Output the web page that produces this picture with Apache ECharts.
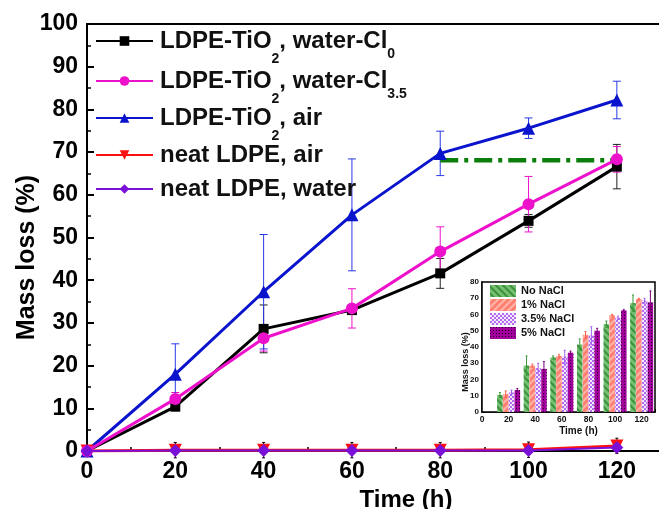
<!DOCTYPE html>
<html>
<head>
<meta charset="utf-8">
<script src="https://cdn.jsdelivr.net/npm/echarts@6/dist/echarts.min.js"></script>
<style>html,body{margin:0;padding:0;background:#fff;}#c{width:659px;height:509px;}</style>
</head>
<body>
<div id="c"></div>
<script>
// ---- main chart data ----
var times = [0, 20, 40, 60, 80, 100, 120];
var cl0 = [0, 10.4, 28.6, 33.0, 41.6, 53.9, 66.6];
var cl0Err = [0, 1.0, 5.6, 1.0, 3.5, 1.5, 5.2];
var cl35 = [0, 12.2, 26.4, 33.4, 46.7, 57.8, 68.3];
var cl35Err = [0, 1.5, 3.0, 4.6, 5.8, 6.5, 3.0];
var air = [0, 18.0, 37.3, 55.3, 69.7, 75.6, 82.2];
var airErr = [0, 7.1, 13.4, 13.1, 5.2, 2.4, 4.4];
var neatAir = [0, 0.2, 0.2, 0.2, 0.2, 0.3, 1.2];
var neatWater = [0, 0.1, 0.1, 0.1, 0.1, 0.1, 0.8];
var neatErr = [0, 1.8, 1.8, 1.8, 1.8, 1.8, 1.8];
var refLevel = 68.1;
var refRange = [80, 120];

// ---- inset data ----
var insetTimes = [20, 40, 60, 80, 100, 120];
var noNaCl = [10.5, 28.5, 33.5, 41.5, 54.0, 67.0];
var noNaClErr = [1.5, 6.0, 1.0, 3.5, 2.0, 5.0];
var nacl1 = [11.0, 28.5, 34.5, 47.5, 59.5, 69.5];
var nacl1Err = [2.0, 1.0, 1.0, 2.0, 0.5, 0.5];
var nacl35 = [12.0, 27.0, 34.0, 47.0, 58.0, 68.5];
var nacl35Err = [1.5, 3.0, 4.0, 5.5, 1.0, 1.5];
var nacl5 = [13.5, 26.5, 36.5, 50.0, 62.5, 67.5];
var nacl5Err = [1.0, 4.5, 1.0, 1.5, 0.5, 7.0];
var insetNames = ['No NaCl', '1% NaCl', '3.5% NaCl', '5% NaCl'];

var names = ['LDPE-TiO2, water-Cl0', 'LDPE-TiO2, water-Cl3.5', 'LDPE-TiO2, air', 'neat LDPE, air', 'neat LDPE, water'];
var FF = '"Liberation Sans", Arial, sans-serif';

function pairs(xs, ys) { return xs.map(function (x, i) { return [x, ys[i]]; }); }
function errData(xs, ys, es) { return xs.map(function (x, i) { return [x, ys[i] - es[i], ys[i] + es[i]]; }); }

function errRender(color, cap, offset) {
  return function (params, api) {
    var x = api.value(0), lo = api.value(1), hi = api.value(2);
    if (hi - lo <= 0) return null;
    var p1 = api.coord([x, lo]), p2 = api.coord([x, hi]);
    var xx = p1[0] + (offset || 0);
    var st = { stroke: color, lineWidth: 1 };
    return {
      type: 'group', children: [
        { type: 'line', shape: { x1: xx, y1: p1[1], x2: xx, y2: p2[1] }, style: st },
        { type: 'line', shape: { x1: xx - cap, y1: p1[1], x2: xx + cap, y2: p1[1] }, style: st },
        { type: 'line', shape: { x1: xx - cap, y1: p2[1], x2: xx + cap, y2: p2[1] }, style: st }
      ]
    };
  };
}

// rich text: main text centred, subscripts bottom-aligned and lowered
var legendRich = {
  n: { fontSize: 24, fontWeight: 'bold', fontFamily: FF, color: '#111', verticalAlign: 'middle', lineHeight: 60 },
  d: { fontSize: 14, fontWeight: 'bold', fontFamily: FF, color: '#111', verticalAlign: 'bottom', padding: [0, 0, 5, 0] },
  s: { fontSize: 14, fontWeight: 'bold', fontFamily: FF, color: '#111', verticalAlign: 'bottom', padding: [0, 0, 10, 0] }
};
function legendFmt(name) {
  if (name === names[0]) return '{n|LDPE-TiO}{d|2}{n|, water-Cl}{s|0}';
  if (name === names[1]) return '{n|LDPE-TiO}{d|2}{n|, water-Cl}{s|3.5}';
  if (name === names[2]) return '{n|LDPE-TiO}{d|2}{n|, air}';
  return '{n|' + name + '}';
}
var legendCenters = [40, 80, 117, 154, 188];
var legends = names.map(function (nm, i) {
  return {
    data: [nm], left: 95, top: legendCenters[i] - 11, orient: 'vertical', itemWidth: 57, itemHeight: 12,
    itemGap: 0, padding: 0, formatter: legendFmt, textStyle: { rich: legendRich, padding: [0, 0, 0, 2] }
  };
});
legends.push({
  data: insetNames, left: 490, top: 285, orient: 'vertical', itemWidth: 26, itemHeight: 12, itemGap: 2,
  padding: 0, icon: 'rect', textStyle: { fontSize: 11, fontWeight: 'bold', fontFamily: FF, color: '#111' }
});

var insetColors = ['#74bf72', '#ff7f70', '#b36bf2', '#a1009c'];
var insetDecals = [
  { symbol: 'rect', color: 'rgba(40,130,40,0.75)', dashArrayX: [1, 0], dashArrayY: [2, 3], rotation: Math.PI / 4 },
  { symbol: 'rect', color: 'rgba(255,190,180,0.85)', dashArrayX: [1, 0], dashArrayY: [2, 3], rotation: -Math.PI / 4 },
  { symbol: 'rect', color: 'rgba(255,255,255,0.85)', symbolSize: 1, dashArrayX: [[2, 2], [0, 2, 2, 0]], dashArrayY: [2, 0], rotation: 0 },
  { symbol: 'rect', color: 'rgba(20,0,20,0.85)', dashArrayX: [[1, 2]], dashArrayY: [1, 2], rotation: 0 }
];
var insetVals = [noNaCl, nacl1, nacl35, nacl5];
var insetErrs = [noNaClErr, nacl1Err, nacl35Err, nacl5Err];
var BW = 5.5, BG = 0.3;

var series = [];
var mainColors = ['#000000', '#ee11cc', '#0a14cc', '#ff1010', '#7a10d8'];
series.push({ type: 'custom', xAxisIndex: 0, yAxisIndex: 0, z: 1, silent: true, renderItem: errRender('#222', 4), data: errData(times, cl0, cl0Err) });
series.push({ type: 'custom', xAxisIndex: 0, yAxisIndex: 0, z: 1, silent: true, renderItem: errRender('#ee11cc', 4), data: errData(times, cl35, cl35Err) });
series.push({ type: 'custom', xAxisIndex: 0, yAxisIndex: 0, z: 1, silent: true, renderItem: errRender('#2a3ae8', 4), data: errData(times, air, airErr) });
series.push({ type: 'custom', xAxisIndex: 0, yAxisIndex: 0, z: 1, silent: true, renderItem: errRender('#000', 1.5), data: errData(times, neatAir, neatErr) });

series.push({ name: names[0], type: 'line', xAxisIndex: 0, yAxisIndex: 0, data: pairs(times, cl0), symbol: 'rect', symbolSize: 10, z: 3,
  lineStyle: { color: '#000', width: 3 }, itemStyle: { color: '#000' } });
series.push({ name: names[1], type: 'line', xAxisIndex: 0, yAxisIndex: 0, data: pairs(times, cl35), symbol: 'circle', symbolSize: 12, z: 4,
  lineStyle: { color: mainColors[1], width: 3 }, itemStyle: { color: mainColors[1] } });
series.push({ name: names[2], type: 'line', xAxisIndex: 0, yAxisIndex: 0, data: pairs(times, air), symbol: 'triangle', symbolSize: 13, z: 3,
  lineStyle: { color: mainColors[2], width: 3 }, itemStyle: { color: mainColors[2] } });
series.push({ name: names[3], type: 'line', xAxisIndex: 0, yAxisIndex: 0, data: pairs(times, neatAir), symbol: 'triangle', symbolRotate: 180, symbolSize: 13, z: 3,
  lineStyle: { color: mainColors[3], width: 3 }, itemStyle: { color: mainColors[3] } });
series.push({ name: names[4], type: 'line', xAxisIndex: 0, yAxisIndex: 0, data: pairs(times, neatWater), symbol: 'diamond', symbolSize: 13, z: 4,
  lineStyle: { color: mainColors[4], width: 2 }, itemStyle: { color: mainColors[4] } });
series.push({ type: 'line', xAxisIndex: 0, yAxisIndex: 0, data: [[refRange[0], refLevel], [refRange[1], refLevel]], symbol: 'none', z: 2, silent: true,
  lineStyle: { color: '#0b7d0b', width: 4.5, type: [18, 6, 4, 6] } });

insetNames.forEach(function (nm, i) {
  series.push({ name: nm, type: 'bar', xAxisIndex: 1, yAxisIndex: 1, data: pairs(insetTimes, insetVals[i]), barWidth: BW, barGap: '6%', z: 5,
    itemStyle: { color: insetColors[i], decal: insetDecals[i] } });
});
insetNames.forEach(function (nm, i) {
  series.push({ type: 'custom', xAxisIndex: 1, yAxisIndex: 1, z: 6, silent: true,
    renderItem: errRender(['#3a9a3a', '#ff6050', '#a060f0', '#7a0078'][i], 1, (i - 1.5) * (BW + BG)),
    data: errData(insetTimes, insetVals[i], insetErrs[i]) });
});

var hideMax = function (max) { return function (v) { return v > max ? '' : String(v); }; };

var option = {
  animation: false,
  backgroundColor: '#ffffff',
  legend: legends,
  grid: [
    { left: 87, top: 24, right: -2, bottom: 58, show: true, borderColor: '#000', borderWidth: 2, backgroundColor: 'transparent', outerBoundsMode: 'none', containLabel: false },
    { left: 482, top: 282, width: 173, height: 130, show: true, borderColor: '#000', borderWidth: 1.5, backgroundColor: '#fff', z: 4, outerBoundsMode: 'none', containLabel: false }
  ],
  xAxis: [
    { type: 'value', gridIndex: 0, min: 0, max: 130, interval: 20, name: 'Time (h)', nameLocation: 'middle', nameGap: 30,
      nameTextStyle: { fontSize: 24, fontWeight: 'bold', fontFamily: FF, color: '#000', padding: [0, 0, 0, 64] },
      axisLine: { show: true, onZero: false, lineStyle: { color: '#000', width: 2 } },
      axisTick: { show: true, inside: true, length: 7, lineStyle: { color: '#000', width: 2 } },
      minorTick: { show: true, splitNumber: 2, length: 4, lineStyle: { color: '#000', width: 1.5 } },
      splitLine: { show: false },
      axisLabel: { fontSize: 23, fontWeight: 'bold', fontFamily: FF, color: '#000', margin: 9, formatter: hideMax(120) } },
    { type: 'value', gridIndex: 1, min: 0, max: 130, interval: 20, name: 'Time (h)', nameLocation: 'middle', nameGap: 14,
      nameTextStyle: { fontSize: 10, fontWeight: 'bold', fontFamily: FF, color: '#111', padding: [0, 0, 0, 20] },
      axisLine: { show: true, onZero: false, lineStyle: { color: '#000', width: 1.5 } },
      axisTick: { show: true, inside: true, length: 3, lineStyle: { color: '#000' } },
      splitLine: { show: false },
      axisLabel: { fontSize: 8.5, fontWeight: 'bold', fontFamily: FF, color: '#111', margin: 3, formatter: hideMax(120) } }
  ],
  yAxis: [
    { type: 'value', gridIndex: 0, min: 0, max: 100, interval: 10, name: 'Mass loss (%)', nameLocation: 'middle', nameGap: 47, nameMoveOverlap: false,
      nameTextStyle: { fontSize: 25, fontWeight: 'bold', fontFamily: FF, color: '#000', padding: [0, 40, 0, 0] },
      axisLine: { show: true, lineStyle: { color: '#000', width: 2 } },
      axisTick: { show: true, inside: true, length: 7, lineStyle: { color: '#000', width: 2 } },
      minorTick: { show: true, splitNumber: 2, length: 4, lineStyle: { color: '#000', width: 1.5 } },
      splitLine: { show: false },
      axisLabel: { fontSize: 23, fontWeight: 'bold', fontFamily: FF, color: '#000', margin: 9 } },
    { type: 'value', gridIndex: 1, min: 0, max: 80, interval: 10, name: 'Mass loss (%)', nameLocation: 'middle', nameGap: 12, nameMoveOverlap: false,
      nameTextStyle: { fontSize: 9, fontWeight: 'bold', fontFamily: FF, color: '#111', padding: [0, 30, 0, 0] },
      axisLine: { show: true, lineStyle: { color: '#000', width: 1.5 } },
      axisTick: { show: true, inside: true, length: 3, lineStyle: { color: '#000' } },
      splitLine: { show: false },
      axisLabel: { fontSize: 8, fontWeight: 'bold', fontFamily: FF, color: '#111', margin: 3 } }
  ],
  series: series
};
var chart = echarts.init(document.getElementById('c'), null, { renderer: 'canvas' });
chart.setOption(option);
</script>
</body>
</html>
